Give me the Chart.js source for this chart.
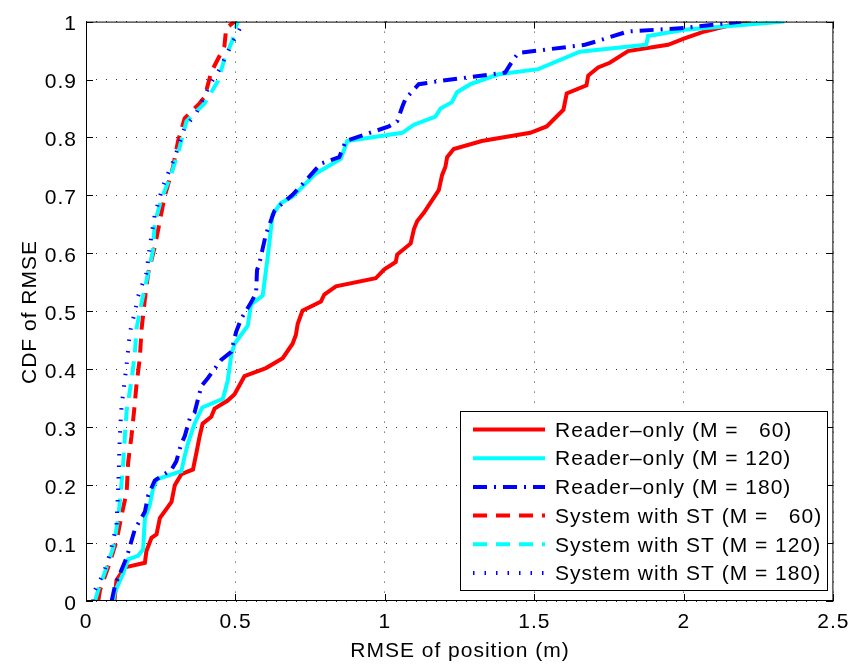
<!DOCTYPE html>
<html>
<head>
<meta charset="utf-8">
<script src="https://cdn.jsdelivr.net/npm/chart.js@4.4.1/dist/chart.umd.min.js"></script>
<style>
  body { margin: 0; background: #fff; }
  #cdf { display: block; }
</style>
</head>
<body>
<canvas id="cdf" width="857" height="665"></canvas>
<script>
/*  CDF curves: [RMSE (m), cumulative probability]  */
const readerM60 = [[0.095, 0], [0.102, 0.036], [0.13, 0.058], [0.197, 0.066], [0.202, 0.086], [0.219, 0.109],
    [0.236, 0.115], [0.247, 0.143], [0.286, 0.171], [0.297, 0.2], [0.319, 0.219], [0.358, 0.227], [0.369, 0.255],
    [0.38, 0.284], [0.39, 0.306], [0.419, 0.318], [0.43, 0.332], [0.474, 0.346], [0.497, 0.357], [0.53, 0.388],
    [0.602, 0.402], [0.658, 0.419], [0.691, 0.444], [0.702, 0.459], [0.708, 0.478], [0.724, 0.501], [0.786, 0.517],
    [0.797, 0.529], [0.836, 0.543], [0.969, 0.557], [0.997, 0.572], [1.036, 0.585], [1.041, 0.598], [1.086, 0.617],
    [1.097, 0.642], [1.108, 0.656], [1.13, 0.67], [1.18, 0.709], [1.191, 0.735], [1.202, 0.749], [1.208, 0.766],
    [1.23, 0.78], [1.324, 0.794], [1.486, 0.808], [1.541, 0.819], [1.597, 0.848], [1.608, 0.876], [1.674, 0.89],
    [1.68, 0.907], [1.713, 0.921], [1.752, 0.929], [1.813, 0.949], [1.947, 0.96], [2.002, 0.971], [2.069, 0.983],
    [2.157, 0.994], [2.224, 1.0]];

const readerM120 = [[0.091, 0], [0.097, 0.016], [0.124, 0.047], [0.141, 0.072], [0.174, 0.078], [0.191, 0.089],
    [0.197, 0.143], [0.213, 0.165], [0.224, 0.193], [0.236, 0.21], [0.319, 0.224], [0.33, 0.25], [0.341, 0.272],
    [0.352, 0.289], [0.363, 0.306], [0.374, 0.318], [0.389, 0.334], [0.458, 0.349], [0.474, 0.38], [0.486, 0.425],
    [0.497, 0.444], [0.541, 0.475], [0.552, 0.512], [0.591, 0.527], [0.602, 0.571], [0.608, 0.594], [0.624, 0.667],
    [0.652, 0.687], [0.691, 0.698], [0.769, 0.738], [0.852, 0.763], [0.874, 0.794], [1.058, 0.808], [1.097, 0.822],
    [1.169, 0.836], [1.186, 0.85], [1.224, 0.861], [1.241, 0.878], [1.286, 0.892], [1.38, 0.909], [1.513, 0.918],
    [1.652, 0.948], [1.874, 0.96], [1.88, 0.975], [2.002, 0.986], [2.336, 1.0]];

const readerM180 = [[0.086, 0], [0.097, 0.027], [0.136, 0.075], [0.163, 0.123], [0.197, 0.154], [0.208, 0.182],
    [0.23, 0.208], [0.286, 0.227], [0.302, 0.241], [0.319, 0.272], [0.33, 0.284], [0.347, 0.315], [0.363, 0.325],
    [0.386, 0.371], [0.408, 0.385], [0.452, 0.416], [0.486, 0.43], [0.502, 0.464], [0.519, 0.487], [0.552, 0.515],
    [0.569, 0.532], [0.572, 0.571], [0.58, 0.583], [0.597, 0.622], [0.602, 0.633], [0.63, 0.673], [0.658, 0.687],
    [0.691, 0.701], [0.741, 0.729], [0.786, 0.755], [0.847, 0.766], [0.869, 0.794], [1.013, 0.819], [1.041, 0.828],
    [1.058, 0.853], [1.069, 0.867], [1.113, 0.892], [1.191, 0.898], [1.402, 0.912], [1.43, 0.935], [1.447, 0.946],
    [1.513, 0.95], [1.669, 0.96], [1.708, 0.966], [1.813, 0.983], [2.002, 0.989], [2.191, 1.0]];

const systemM60 = [[0.041, 0], [0.047, 0.019], [0.074, 0.058], [0.102, 0.103], [0.119, 0.148], [0.136, 0.188],
    [0.141, 0.239], [0.152, 0.284], [0.161, 0.329], [0.169, 0.374], [0.18, 0.419], [0.186, 0.47], [0.197, 0.521],
    [0.208, 0.566], [0.23, 0.611], [0.247, 0.656], [0.263, 0.698], [0.291, 0.749], [0.308, 0.794], [0.33, 0.833],
    [0.38, 0.859], [0.397, 0.87], [0.419, 0.913], [0.452, 0.946], [0.463, 0.958], [0.469, 0.989], [0.497, 1.0]];

const systemM120 = [[0.03, 0], [0.041, 0.019], [0.069, 0.058], [0.091, 0.092], [0.108, 0.143], [0.124, 0.233],
    [0.13, 0.284], [0.136, 0.329], [0.152, 0.38], [0.163, 0.425], [0.169, 0.47], [0.186, 0.515], [0.208, 0.566],
    [0.224, 0.605], [0.23, 0.653], [0.252, 0.693], [0.286, 0.738], [0.313, 0.783], [0.336, 0.828], [0.397, 0.859],
    [0.441, 0.897], [0.463, 0.935], [0.491, 0.969], [0.502, 0.992], [0.508, 1.0]];

const systemM180 = [[0.024, 0], [0.03, 0.019], [0.058, 0.047], [0.08, 0.081], [0.102, 0.131], [0.108, 0.199],
    [0.113, 0.284], [0.119, 0.337], [0.124, 0.357], [0.136, 0.408], [0.147, 0.464], [0.163, 0.498], [0.174, 0.526],
    [0.202, 0.566], [0.213, 0.611], [0.23, 0.667], [0.258, 0.717], [0.297, 0.766], [0.33, 0.817], [0.369, 0.842],
    [0.413, 0.89], [0.447, 0.918], [0.486, 0.96], [0.519, 0.992], [0.52, 1.0]];

const seriesLabels = [
    "Reader\u2013only (M =   60)", "Reader\u2013only (M = 120)", "Reader\u2013only (M = 180)",
    "System with ST (M =   60)", "System with ST (M = 120)", "System with ST (M = 180)"];

const xTicks = [0, 0.5, 1, 1.5, 2, 2.5];
const yTicks = [0, 0.1, 0.2, 0.3, 0.4, 0.5, 0.6, 0.7, 0.8, 0.9, 1];

const FONT = "'Liberation Sans', Arial, Helvetica, sans-serif";
const SPACING = "1px";

function series(points, label, color, width, dash, order) {
    return {
        label,
        data: points.map(p => ({ x: p[0], y: p[1] })),
        borderColor: color,
        borderWidth: width,
        borderDash: dash,
        borderCapStyle: "butt",
        pointRadius: 0,
        tension: 0,
        fill: false,
        order
    };
}

const datasets = [
    series(readerM60, seriesLabels[0], "#ff0000", 4, [], 6),
    series(readerM120, seriesLabels[1], "#00ffff", 4, [], 5),
    series(readerM180, seriesLabels[2], "#0000ff", 4, [14, 7, 2, 7], 4),
    series(systemM60, seriesLabels[3], "#ff0000", 4, [14, 9], 3),
    series(systemM120, seriesLabels[4], "#00ffff", 4, [14, 9], 2),
    series(systemM180, seriesLabels[5], "#0000ff", 4, [1.5, 10], 1)
];

/* text spacing for everything drawn on the canvas */
const spacingPlugin = {
    id: "spacing",
    beforeDraw(chart) {
        chart.ctx.letterSpacing = SPACING;
    }
};

/* axes box with inward tick marks, axis titles and the legend */
const framePlugin = {
    id: "frame",
    afterDraw(chart) {
        const ctx = chart.ctx;
        const { left, right, top, bottom } = chart.chartArea;
        const xs = chart.scales.x, ys = chart.scales.y;
        ctx.save();
        ctx.letterSpacing = SPACING;
        ctx.strokeStyle = "#000";
        ctx.lineWidth = 1;
        ctx.setLineDash([]);
        ctx.strokeRect(left + 0.5, top + 0.5, right - left - 1, bottom - top - 1);

        ctx.beginPath();
        xTicks.forEach(v => {
            const px = Math.round(xs.getPixelForValue(v)) + 0.5;
            ctx.moveTo(px, bottom); ctx.lineTo(px, bottom - 7);
            ctx.moveTo(px, top); ctx.lineTo(px, top + 7);
        });
        yTicks.forEach(v => {
            const py = Math.round(ys.getPixelForValue(v)) + 0.5;
            ctx.moveTo(left, py); ctx.lineTo(left + 7, py);
            ctx.moveTo(right, py); ctx.lineTo(right - 7, py);
        });
        ctx.stroke();

        // axis titles
        ctx.fillStyle = "#000";
        ctx.font = "21px " + FONT;
        ctx.textAlign = "center";
        ctx.textBaseline = "alphabetic";
        ctx.fillText("RMSE of position (m)", 460, 656.5);
        ctx.save();
        ctx.translate(36, 312);
        ctx.rotate(-Math.PI / 2);
        ctx.fillText("CDF of RMSE", 0, 0);
        ctx.restore();

        // legend
        const box = { x: 460.5, y: 411.5, w: 367, h: 179 };
        ctx.fillStyle = "#fff";
        ctx.fillRect(box.x, box.y, box.w, box.h);
        ctx.strokeRect(box.x, box.y, box.w, box.h);
        ctx.textAlign = "left";
        ctx.textBaseline = "middle";
        chart.data.datasets.forEach((ds, i) => {
            const y = 429.5 + i * 28.7;
            ctx.strokeStyle = ds.borderColor;
            ctx.lineWidth = ds.borderWidth;
            ctx.lineCap = "butt";
            ctx.setLineDash(ds.borderDash);
            ctx.beginPath();
            ctx.moveTo(473, y);
            ctx.lineTo(545, y);
            ctx.stroke();
            ctx.setLineDash([]);
            ctx.fillStyle = "#000";
            ctx.fillText(ds.label, 555, y + 1.5);
        });
        ctx.restore();
    }
};

Chart.defaults.font.family = FONT;
Chart.defaults.font.size = 21;
Chart.defaults.color = "#000";

new Chart(document.getElementById("cdf"), {
    type: "line",
    data: { datasets },
    options: {
        responsive: false,
        animation: false,
        events: [],
        layout: { padding: { left: 0, right: 21, top: 10, bottom: 0 } },
        plugins: {
            legend: { display: false },
            tooltip: { enabled: false }
        },
        scales: {
            x: {
                type: "linear",
                min: 0,
                max: 2.5,
                afterBuildTicks: s => { s.ticks = xTicks.map(v => ({ value: v })); },
                afterFit: s => { s.height = 64; },
                ticks: { padding: 9, maxRotation: 0, callback: v => String(v) },
                grid: { color: "rgba(0,0,0,0.8)", lineWidth: 1, drawTicks: false },
                border: { display: false, dash: [1, 9] }
            },
            y: {
                type: "linear",
                min: 0,
                max: 1,
                afterBuildTicks: s => { s.ticks = yTicks.map(v => ({ value: v })); },
                afterFit: s => { s.width = 86; },
                ticks: { padding: 9, labelOffset: 3, callback: v => String(v) },
                grid: { color: "rgba(0,0,0,0.8)", lineWidth: 1, drawTicks: false },
                border: { display: false, dash: [1, 9] }
            }
        }
    },
    plugins: [spacingPlugin, framePlugin]
});
</script>
</body>
</html>
